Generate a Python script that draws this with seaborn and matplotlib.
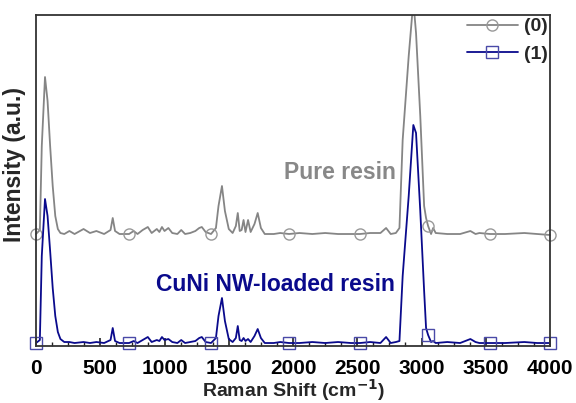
import numpy as np
import pandas as pd
import matplotlib
matplotlib.use("Agg")
import matplotlib.pyplot as plt
import seaborn as sns
from matplotlib.ticker import MultipleLocator
from matplotlib.patches import Rectangle

# ---- data ----
raman_shift = [0, 30, 45, 70, 90, 110, 130, 150, 170, 190, 220, 260, 300, 370, 420, 470,
               530, 580, 597, 615, 650, 700, 724, 760, 790, 830, 870, 900, 940, 960, 980,
               1000, 1030, 1060, 1100, 1130, 1160, 1200, 1240, 1270, 1290, 1320, 1362,
               1400, 1420, 1447, 1470, 1500, 1530, 1555, 1570, 1585, 1600, 1615, 1630,
               1650, 1670, 1700, 1725, 1750, 1780, 1850, 1900, 1969, 2050, 2150, 2250,
               2350, 2450, 2521, 2600, 2680, 2724, 2760, 2800, 2828, 2853, 2900, 2936,
               2957, 2990, 3020, 3035, 3051, 3074, 3090, 3110, 3200, 3300, 3380, 3420,
               3450, 3533, 3650, 3800, 3900, 4000]

pure_resin = [112, 116, 200, 269, 245, 200, 160, 130, 117, 113, 112, 115, 112, 117, 113, 115,
              112, 116, 128, 115, 112, 112, 112, 115, 112, 116, 119, 113, 117, 114, 119,
              115, 118, 113, 112, 116, 112, 113, 115, 118, 119, 114, 112,
              118, 140, 160, 135, 117, 113, 120, 133, 115, 116, 126, 114,
              126, 114, 122, 133, 118, 112, 112, 113, 112, 113, 112, 113,
              112, 112, 112, 113, 113, 118, 112, 113, 118, 206, 290, 345,
              313, 230, 140, 128, 120, 112, 118, 113, 112, 112, 115, 112,
              113, 112, 112, 113, 112, 111]

cuni_resin = [3, 6, 90, 147, 130, 95, 58, 30, 14, 7, 4, 4, 3, 4, 3, 4,
              3, 6, 18, 5, 3, 3, 3, 5, 3, 6, 9, 4, 6, 5, 9,
              6, 7, 4, 3, 6, 3, 4, 5, 8, 9, 4, 3,
              8, 30, 48, 25, 7, 4, 8, 20, 6, 5, 8, 5,
              7, 4, 10, 17, 8, 3, 3, 4, 3, 3, 4, 3,
              4, 3, 3, 4, 3, 9, 3, 4, 5, 70, 150, 221,
              213, 135, 55, 18, 11, 4, 5, 3, 4, 3, 7, 4,
              3, 3, 3, 4, 3, 3]

marker_shifts = [0, 724, 1362, 1969, 2521, 3051, 3533, 4000]
series_labels = ["(0)", "(1)"]
x_ticks = [0, 500, 1000, 1500, 2000, 2500, 3000, 3500, 4000]

grey = "#858585"
navy = "#0a0a8c"

sns.set_style("ticks")
plt.rcParams["font.family"] = ["Liberation Sans", "DejaVu Sans"]
plt.rcParams["font.weight"] = "bold"

fig = plt.figure(figsize=(5.76, 4.03), dpi=100)
ax = fig.add_axes([0.0625, 0.1414, 0.8925, 0.8214])

mark_idx = [raman_shift.index(m) for m in marker_shifts]

df0 = pd.DataFrame({"shift": raman_shift, "intensity": pure_resin})
df1 = pd.DataFrame({"shift": raman_shift, "intensity": cuni_resin})

sns.lineplot(data=df0, x="shift", y="intensity", ax=ax, color=grey, lw=1.3,
             marker="o", markersize=8, markerfacecolor="none", markeredgecolor="#999999",
             markeredgewidth=1.0, markevery=mark_idx, label=series_labels[0],
             estimator=None, sort=False)
sns.lineplot(data=df1, x="shift", y="intensity", ax=ax, color=navy, lw=1.3,
             marker="s", markersize=8, markerfacecolor="none", markeredgecolor="#4a4aa8",
             markeredgewidth=1.0, markevery=mark_idx, label=series_labels[1],
             estimator=None, sort=False)

ax.set_xlim(0, 4000)
ax.set_ylim(0, 331)
# clip at the top (tall peak) but let edge markers show at left/right/bottom
clip_rect = Rectangle((-0.03, -0.05), 1.06, 1.05, transform=ax.transAxes, visible=False)
ax.add_patch(clip_rect)
for ln in ax.get_lines():
    ln.set_clip_path(clip_rect)

ax.set_xticks(x_ticks)
ax.xaxis.set_minor_locator(MultipleLocator(125))
ax.set_yticks([])
ax.tick_params(axis="x", which="major", direction="in", length=6, width=1.2,
               labelsize=15, pad=9, colors="#222222")
ax.tick_params(axis="x", which="minor", direction="in", length=3, width=1.0, colors="#222222")
for lab in ax.get_xticklabels():
    lab.set_fontweight("bold")
    lab.set_color("black")

for sp in ax.spines.values():
    sp.set_visible(True)
    sp.set_color("#333333")
    sp.set_linewidth(1.3)

ax.set_xlabel("Raman Shift (cm$^{\\mathbf{-1}}$)", fontsize=14, fontweight="bold", labelpad=0)
ax.set_ylabel("Intensity (a.u.)", fontsize=16.5, fontweight="bold")
ax.yaxis.set_label_coords(-0.019, 0.547)

ax.text(2366, 174, "Pure resin", color="#888888", fontsize=16.5, fontweight="bold",
        ha="center", va="center")
ax.text(1864, 62, "CuNi NW-loaded resin", color=navy, fontsize=16.5, fontweight="bold",
        ha="center", va="center")

leg = ax.legend(loc="upper right", frameon=False, handlelength=2.6,
                handletextpad=0.3, borderaxespad=0.0, labelspacing=0.5,
                bbox_to_anchor=(1.01, 1.015),
                prop={"weight": "bold", "size": 14})

fig.savefig("out.png", dpi=100)
